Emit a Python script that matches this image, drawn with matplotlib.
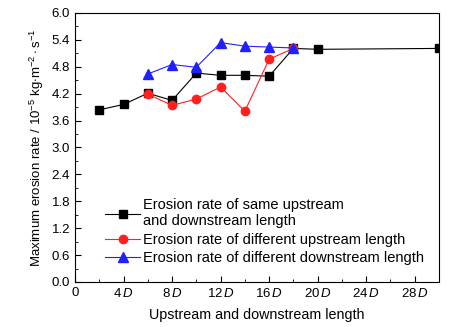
import matplotlib
matplotlib.use("Agg")
import matplotlib.pyplot as plt
from matplotlib.ticker import MultipleLocator

plt.rcParams["font.family"] = ["Liberation Sans", "DejaVu Sans"]
plt.rcParams["mathtext.fontset"] = "custom"
plt.rcParams["mathtext.rm"] = "Liberation Sans"
plt.rcParams["mathtext.it"] = "Liberation Sans:italic"
plt.rcParams["font.size"] = 9.5

# upstream/downstream length in units of D
same_x = [2, 4, 6, 8, 10, 12, 14, 16, 18, 20, 30]
same_y = [3.84, 3.96, 4.21, 4.05, 4.66, 4.61, 4.61, 4.59, 5.21, 5.19, 5.21]

up_x = [6, 8, 10, 12, 14, 16, 18]
up_y = [4.19, 3.94, 4.08, 4.35, 3.81, 4.97, 5.21]

down_x = [6, 8, 10, 12, 14, 16, 18]
down_y = [4.64, 4.85, 4.79, 5.34, 5.26, 5.24, 5.22]

xticks = [0, 4, 8, 12, 16, 20, 24, 28]
xlabels = ["0"] + [str(t) + r"$\,\mathit{D}$" for t in xticks[1:]]

fig = plt.figure(figsize=(4.49, 3.27), dpi=100)
ax = fig.add_axes([75 / 449, 45 / 327, 364 / 449, 269 / 327])

ax.plot(same_x, same_y, color="black", lw=0.8, marker="s", ms=5.5,
        label="Erosion rate of same upstream\nand downstream length")
ax.plot(up_x, up_y, color="#ff2020", lw=0.8, marker="o", ms=6,
        label="Erosion rate of different upstream length")
ax.plot(down_x, down_y, color="#2020ff", lw=0.8, marker="^", ms=6.5,
        label="Erosion rate of different downstream length")

ax.set_xlim(0, 30)
ax.set_ylim(0, 6.0)
ax.set_xticks(xticks)
ax.set_xticklabels(xlabels)
ax.xaxis.set_minor_locator(MultipleLocator(2))
ax.set_yticks([i * 0.6 for i in range(11)])
ax.set_yticklabels(["%.1f" % (i * 0.6) for i in range(11)])
ax.yaxis.set_minor_locator(MultipleLocator(0.3))
ax.tick_params(which="both", direction="in", top=False, right=False, labelsize=9.5)
ax.tick_params(which="major", length=4)
ax.tick_params(which="minor", length=2)

ax.set_xlabel("Upstream and downstream length", fontsize=10.3, labelpad=6)
ax.set_ylabel(r"Maximum erosion rate / 10$^{-5}$ kg$\cdot$m$^{-2}\cdot$s$^{-1}$",
              fontsize=9.5, labelpad=4)

ax.legend(loc="lower left", bbox_to_anchor=(30 / 364, 17 / 269), frameon=False,
          fontsize=10.5, handlelength=2.4, handletextpad=0.2,
          labelspacing=0.3, borderaxespad=0, borderpad=0)

fig.savefig("out.png", dpi=100)
